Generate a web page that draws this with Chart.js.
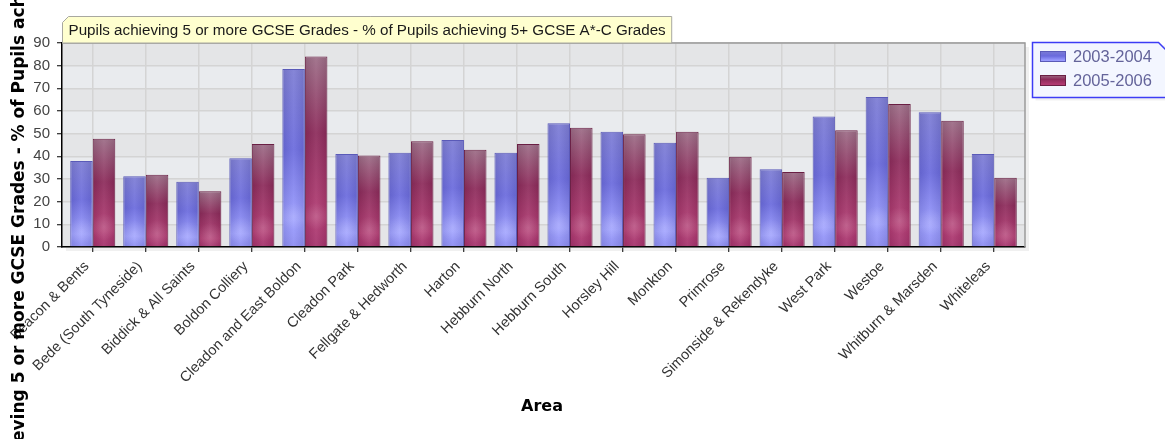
<!DOCTYPE html>
<html>
<head>
<meta charset="utf-8">
<script src="https://cdn.jsdelivr.net/npm/chart.js@4.4.1/dist/chart.umd.min.js"></script>
<style>
html,body{margin:0;padding:0;background:#fff;}
canvas{display:block;}
</style>
</head>
<body>
<canvas id="c" width="1165" height="439"></canvas>
<script>
const categories = ["Beacon & Bents","Bede (South Tyneside)","Biddick & All Saints","Boldon Colliery","Cleadon and East Boldon","Cleadon Park","Fellgate & Hedworth","Harton","Hebburn North","Hebburn South","Horsley Hill","Monkton","Primrose","Simonside & Rekendyke","West Park","Westoe","Whitburn & Marsden","Whiteleas"];
const series2003 = [37.9,31.2,28.8,39.1,78.5,41.0,41.6,47.2,41.6,54.6,50.9,46.0,30.6,34.3,57.6,66.2,59.4,41.0];
const series2005 = [47.8,31.9,24.6,45.4,84.0,40.4,46.6,42.9,45.4,52.6,49.7,50.9,39.8,33.1,51.5,63.1,55.7,30.6];
const seriesLabels = ["2003-2004","2005-2006"];
const yTicks = [0,10,20,30,40,50,60,70,80,90];
const chartTitle = "Pupils achieving 5 or more GCSE Grades - % of Pupils achieving 5+ GCSE A*-C Grades";
const yTitle = "Pupils achieving 5 or more GCSE Grades - % of Pupils achieving 5+ GCSE A*-C Grades";
const xTitle = "Area";

const blueStops = [[0,'#7c7cd4'],[0.45,'#6a6add'],[0.85,'#9a9cff'],[1,'#8a8af0']];
const redStops = [[0,'#9c6c86'],[0.4,'#8c2a5a'],[0.85,'#b23a72'],[1,'#a3306a']];

function barGradient(ctx, stops) {
  const chart = ctx.chart;
  if (!chart.chartArea || ctx.type !== 'data') return stops[1][1];
  const ys = chart.scales.y;
  const top = ys.getPixelForValue(ctx.raw);
  const base = ys.getPixelForValue(0);
  if (!isFinite(top) || !isFinite(base) || base - top < 1) return stops[1][1];
  const g = chart.ctx.createLinearGradient(0, top, 0, base);
  stops.forEach(s => g.addColorStop(s[0], s[1]));
  return g;
}

const FONT = "'Liberation Sans', Arial, sans-serif";
const BOLDFAMILY = "'DejaVu Sans', Verdana, sans-serif";

const decor = {
  id: 'decor',
  beforeDraw(chart) {
    const {ctx, chartArea: a} = chart;
    ctx.save();
    ctx.fillStyle = 'rgba(0,0,0,0.06)';
    ctx.fillRect(a.left + 4, a.top + 4, a.right - a.left, a.bottom - a.top);
    const ys = chart.scales.y;
    for (let i = 0; i < yTicks.length - 1; i++) {
      const y1 = ys.getPixelForValue(yTicks[i + 1]);
      const y0 = ys.getPixelForValue(yTicks[i]);
      ctx.fillStyle = (i % 2 === 0) ? '#e4e5e7' : '#e9ebee';
      ctx.fillRect(a.left, y1, a.right - a.left, y0 - y1);
    }
    ctx.restore();
  },
  afterDatasetsDraw(chart) {
    const {ctx} = chart;
    ctx.save();
    chart.data.datasets.forEach((ds, di) => {
      const meta = chart.getDatasetMeta(di);
      meta.data.forEach(el => {
        const w = el.width, x0 = el.x - w / 2, top = el.y, base = el.base;
        const h = base - top;
        if (h <= 2) return;
        const g = ctx.createLinearGradient(x0, 0, x0 + w, 0);
        g.addColorStop(0, 'rgba(0,0,0,0.08)');
        g.addColorStop(0.5, 'rgba(255,255,255,0.08)');
        g.addColorStop(1, 'rgba(0,0,0,0.08)');
        ctx.fillStyle = g;
        ctx.fillRect(x0 + 1, top + 1, w - 2, h - 1);
        const cy = base - Math.min(h * 0.18, 30);
        const r = ctx.createRadialGradient(el.x, cy, 0, el.x, cy, w * 0.6);
        r.addColorStop(0, 'rgba(255,255,255,0.14)');
        r.addColorStop(1, 'rgba(255,255,255,0)');
        ctx.fillStyle = r;
        const t0 = Math.max(top + 1, cy - w), t1 = Math.min(base, cy + w);
        ctx.fillRect(x0 + 1, t0, w - 2, t1 - t0);
      });
    });
    ctx.restore();
  },
  afterDraw(chart) {
    const {ctx, chartArea: a} = chart;
    ctx.save();
    ctx.strokeStyle = '#9a9a9a';
    ctx.lineWidth = 1.5;
    ctx.beginPath();
    ctx.moveTo(a.left, a.top);
    ctx.lineTo(a.right, a.top);
    ctx.lineTo(a.right, a.bottom);
    ctx.stroke();

    // title box
    ctx.font = '15.2px ' + FONT;
    const tw = ctx.measureText(chartTitle).width;
    const bx = a.left + 0.5, by = 16.5, bw = tw + 12, bh = a.top - 16.5;
    ctx.beginPath();
    ctx.moveTo(bx + 6, by);
    ctx.lineTo(bx + bw, by);
    ctx.lineTo(bx + bw, by + bh);
    ctx.lineTo(bx, by + bh);
    ctx.lineTo(bx, by + 6);
    ctx.closePath();
    ctx.fillStyle = '#ffffcf';
    ctx.fill();
    ctx.strokeStyle = '#a8a8a0';
    ctx.lineWidth = 1;
    ctx.stroke();
    ctx.fillStyle = '#1a1a1a';
    ctx.textBaseline = 'middle';
    ctx.textAlign = 'left';
    ctx.fillText(chartTitle, bx + 6, by + bh / 2 + 1);

    // legend
    const lx = 1032.5, ly = 42.5, lw = 140, lh = 55;
    ctx.fillStyle = 'rgba(0,0,0,0.06)';
    ctx.fillRect(lx + 3, ly + 3, lw, lh);
    ctx.beginPath();
    ctx.moveTo(lx, ly);
    ctx.lineTo(lx + lw - 14, ly);
    ctx.lineTo(lx + lw, ly + 14);
    ctx.lineTo(lx + lw, ly + lh);
    ctx.lineTo(lx, ly + lh);
    ctx.closePath();
    ctx.fillStyle = '#f3f6ff';
    ctx.fill();
    ctx.strokeStyle = '#3c3cf5';
    ctx.lineWidth = 1.5;
    ctx.stroke();
    const sw = [[blueStops, '#5a5ab8'], [redStops, '#6a1f44']];
    seriesLabels.forEach((lab, i) => {
      const sy = 51 + i * 24;
      const g = ctx.createLinearGradient(0, sy, 0, sy + 11);
      sw[i][0].forEach(s => g.addColorStop(s[0], s[1]));
      ctx.fillStyle = g;
      ctx.fillRect(1040.5, sy + 0.5, 25, 10);
      ctx.strokeStyle = sw[i][1];
      ctx.lineWidth = 1;
      ctx.strokeRect(1040.5, sy + 0.5, 25, 10);
      ctx.font = '16.5px ' + FONT;
      ctx.fillStyle = '#64649a';
      ctx.textBaseline = 'middle';
      ctx.fillText(lab, 1073, sy + 6);
    });

    // axis titles
    ctx.fillStyle = '#000';
    ctx.font = 'bold 16px ' + BOLDFAMILY;
    ctx.textAlign = 'center';
    ctx.textBaseline = 'middle';
    ctx.fillText(xTitle, 542, 407);
    ctx.font = 'bold 17px ' + BOLDFAMILY;
    ctx.textAlign = 'left';
    ctx.textBaseline = 'alphabetic';
    const yStart = 442 + ctx.measureText('Pupils achi').width;
    ctx.save();
    ctx.translate(24, yStart);
    ctx.rotate(-Math.PI / 2);
    ctx.fillText(yTitle, 0, 0);
    ctx.restore();
    ctx.restore();
  }
};

new Chart(document.getElementById('c'), {
  type: 'bar',
  data: {
    labels: categories,
    datasets: [
      {
        label: seriesLabels[0],
        data: series2003,
        backgroundColor: c => barGradient(c, blueStops),
        borderColor: '#5a5ab8',
        borderWidth: 1,
        barPercentage: 1,
        categoryPercentage: 0.85
      },
      {
        label: seriesLabels[1],
        data: series2005,
        backgroundColor: c => barGradient(c, redStops),
        borderColor: '#6a1f44',
        borderWidth: 1,
        barPercentage: 1,
        categoryPercentage: 0.85
      }
    ]
  },
  options: {
    responsive: false,
    animation: false,
    events: [],
    layout: { padding: { top: 43, right: 140, left: 0, bottom: 0 } },
    plugins: { legend: { display: false }, title: { display: false }, tooltip: { enabled: false } },
    scales: {
      x: {
        offset: true,
        afterBuildTicks(s) {
          s._startValue = -0.58;
          s._valueRange = categories.length - 1 + 1.16;
        },
        grid: { offset: false, color: '#d4d4d4', lineWidth: 1.5, tickColor: '#000', tickLength: 5, tickWidth: 1 },
        border: { display: true, color: '#000', width: 1.5 },
        ticks: {
          autoSkip: false, minRotation: 45, maxRotation: 45, padding: 6, labelOffset: -6,
          color: '#333', font: { family: FONT, size: 14.5 }
        },
        afterFit(s) { s.height = 192; }
      },
      y: {
        min: 0, max: 90,
        afterBuildTicks(s) { s.ticks = yTicks.map(v => ({ value: v })); },
        grid: { color: '#d4d4d4', lineWidth: 1.5, tickColor: '#000', tickLength: 5, tickWidth: 1 },
        border: { display: true, color: '#000', width: 1.5 },
        ticks: { padding: 7, color: '#444', font: { family: FONT, size: 15 } },
        afterFit(s) { s.width = 62; }
      }
    }
  },
  plugins: [decor]
});
</script>
</body>
</html>
